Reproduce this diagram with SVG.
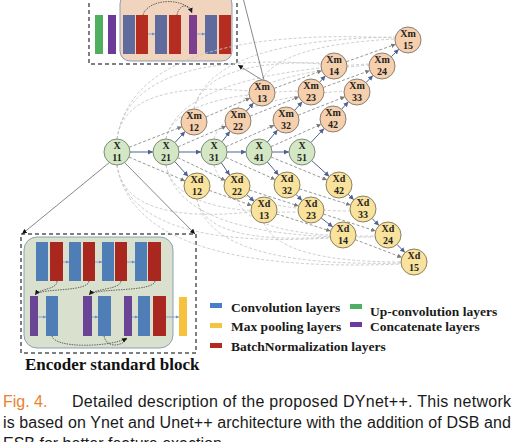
<svg xmlns="http://www.w3.org/2000/svg" width="530" height="442" viewBox="0 0 530 442">
<style>
.bg{fill:#ffffff}
.nx{fill:#d4e7c5;stroke:#7d8c78;stroke-width:1}
.nm{fill:#f6cfad;stroke:#8c7f72;stroke-width:1}
.nd{fill:#f8e29c;stroke:#8a8160;stroke-width:1}
.nt{font-family:"Liberation Serif","Times New Roman",serif;font-weight:bold;font-size:10px;fill:#222;text-anchor:middle}
.sol{stroke:#4f6290;stroke-width:1;fill:none;marker-end:url(#aS)}
.dsh{stroke:#8c8c8c;stroke-width:0.9;stroke-dasharray:3 2;fill:none;marker-end:url(#aD)}
.arc{stroke:#c6c6c6;stroke-width:0.9;stroke-dasharray:3 2;fill:none}
.call{stroke:#6a6a6a;stroke-width:0.8;fill:none}
.box{fill:none;stroke:#555;stroke-width:1.5;stroke-dasharray:4 3}
.ba{stroke:#6d8fc9;stroke-width:0.8;fill:none;marker-end:url(#aB)}
.cv{stroke:#444;stroke-width:0.8;stroke-dasharray:1.5 1;fill:none}
.lg{font-family:"Liberation Serif","Times New Roman",serif;font-weight:bold;font-size:13.5px;fill:#1a1a1a}
.cap{font-family:"Liberation Sans",Arial,sans-serif;font-size:16px;fill:#1a1a1a}
</style>
<defs>
<marker id="aS" viewBox="0 0 10 10" refX="10" refY="5" markerWidth="5" markerHeight="5" markerUnits="userSpaceOnUse" orient="auto"><path d="M0,0 L10,5 L0,10 z" fill="#4f6290"/></marker>
<marker id="aD" viewBox="0 0 10 10" refX="10" refY="5" markerWidth="4.5" markerHeight="4.5" markerUnits="userSpaceOnUse" orient="auto"><path d="M0,0 L10,5 L0,10 z" fill="#7a7a7a"/></marker>
<marker id="aK" viewBox="0 0 10 10" refX="10" refY="5" markerWidth="5" markerHeight="5" markerUnits="userSpaceOnUse" orient="auto"><path d="M0,0 L10,5 L0,10 z" fill="#111"/></marker>
<marker id="aB" viewBox="0 0 10 10" refX="10" refY="5" markerWidth="3.5" markerHeight="3.5" markerUnits="userSpaceOnUse" orient="auto"><path d="M0,0 L10,5 L0,10 z" fill="#6d8fc9"/></marker>
</defs>
<rect class="bg" x="0" y="0" width="530" height="442"/>

<!-- Decoder standard block (top) -->
<g id="top-block">
<rect class="box" x="89" y="-10" width="148" height="74"/>
<rect x="95" y="15" width="8" height="39" fill="#4faf5d"/>
<rect x="108" y="15" width="8" height="39" fill="#6c3a98"/>
<rect x="120" y="-6" width="112" height="67" rx="10" fill="#f0d4be" stroke="#8e9bb8" stroke-width="1"/>
<rect x="123" y="15" width="12" height="39" fill="#616a9c"/>
<rect x="136" y="15" width="12" height="39" fill="#b52c21"/>
<rect x="155" y="15" width="12" height="39" fill="#616a9c"/>
<rect x="169" y="15" width="12" height="39" fill="#b52c21"/>
<rect x="189" y="15" width="8" height="39" fill="#7c3f8e"/>
<rect x="205" y="15" width="12" height="39" fill="#616a9c"/>
<rect x="219" y="15" width="12" height="39" fill="#b52c21"/>
<line class="ba" x1="148" y1="34" x2="155" y2="34"/>
<line class="ba" x1="197" y1="34" x2="205" y2="34"/>
<path class="cv" d="M143,15 C148,-2 186,-3 192,13" marker-end="url(#aK)"/>
<path class="cv" d="M177,15 C179,4 189,3 192,12"/>
</g>

<!-- Encoder standard block -->
<g id="encoder-block">
<rect class="box" x="21" y="234" width="175" height="119"/>
<rect x="24" y="237" width="149" height="111" rx="13" fill="#d9e0cd" stroke="#8aa1b7" stroke-width="1"/>
<rect x="36" y="242" width="12" height="39" fill="#4f7db6"/>
<rect x="50" y="242" width="13" height="39" fill="#a9271f"/>
<rect x="69" y="242" width="12" height="39" fill="#4f7db6"/>
<rect x="83" y="242" width="12" height="39" fill="#a9271f"/>
<rect x="102" y="242" width="12" height="39" fill="#4f7db6"/>
<rect x="115" y="242" width="12" height="39" fill="#a9271f"/>
<rect x="135" y="242" width="12" height="39" fill="#4f7db6"/>
<rect x="148" y="242" width="13" height="39" fill="#a9271f"/>
<rect x="30" y="296" width="8" height="40" fill="#6a4596"/>
<rect x="46" y="296" width="12" height="40" fill="#4f7db6"/>
<rect x="83" y="296" width="9" height="40" fill="#6a4596"/>
<rect x="98" y="296" width="13" height="40" fill="#4f7db6"/>
<rect x="124" y="296" width="8" height="40" fill="#6a4596"/>
<rect x="138" y="296" width="12" height="40" fill="#4f7db6"/>
<rect x="153" y="296" width="13" height="40" fill="#a9271f"/>
<rect x="179" y="297" width="8" height="39" fill="#f6c13c"/>
<line class="ba" x1="63" y1="262" x2="69" y2="262"/>
<line class="ba" x1="95" y1="262" x2="102" y2="262"/>
<line class="ba" x1="127" y1="262" x2="135" y2="262"/>
<line class="ba" x1="38" y1="317" x2="46" y2="317"/>
<line class="ba" x1="92" y1="317" x2="98" y2="317"/>
<line class="ba" x1="132" y1="317" x2="138" y2="317"/>
<line class="ba" x1="166" y1="317" x2="179" y2="317"/>
<path class="cv" d="M57,281 C57,290 40,288 35,295" marker-end="url(#aK)"/>
<path class="cv" d="M89,281 C88,292 45,288 36,294"/>
<path class="cv" d="M121,281 C120,290 95,288 89,295" marker-end="url(#aK)"/>
<path class="cv" d="M155,281 C154,292 100,288 91,294"/>
<path class="cv" d="M52,336 C55,349 112,347 127,338" marker-end="url(#aK)"/>
<path class="cv" d="M104,336 C107,349 122,346 127,339"/>
<text x="25" y="370" font-family="Liberation Serif, Times New Roman, serif" font-weight="bold" font-size="17" fill="#111">Encoder standard block</text>
</g>

<!-- connectors -->
<g id="connectors">
<!-- long skip arcs, upper -->
<path class="arc" d="M117,139 Q125,80 249,91"/>
<path class="arc" d="M117,139 Q130,50 321,64"/>
<path class="arc" d="M117,139 Q135,25 395,38"/>
<path class="arc" d="M194,109 Q205,60 321,63"/>
<path class="arc" d="M194,109 Q210,40 395,37"/>
<path class="arc" d="M262,80 Q280,45 395,39"/>
<path class="arc" d="M166,139 Q175,95 298,91"/>
<path class="arc" d="M166,139 Q180,75 369,64"/>
<path class="arc" d="M238,108 Q250,75 369,65"/>
<path class="arc" d="M214,139 Q225,100 344,91"/>
<!-- long skip arcs, lower -->
<path class="arc" d="M117,165 Q125,225 251,212"/>
<path class="arc" d="M117,165 Q130,250 330,238"/>
<path class="arc" d="M117,165 Q135,275 401,264"/>
<path class="arc" d="M197,199 Q205,245 330,237"/>
<path class="arc" d="M197,199 Q210,268 401,263"/>
<path class="arc" d="M264,223 Q280,262 401,262"/>
<path class="arc" d="M166,165 Q175,215 298,212"/>
<path class="arc" d="M166,165 Q180,240 375,237"/>
<path class="arc" d="M237,199 Q250,238 375,236"/>
<path class="arc" d="M214,165 Q225,210 350,211"/>
<!-- callout lines -->
<line class="call" x1="262" y1="80" x2="238" y2="65" marker-end="url(#aK)"/>
<line class="call" x1="264" y1="80" x2="241" y2="-10"/>
<line class="call" x1="110" y1="162" x2="22" y2="234" marker-end="url(#aK)"/>
<line class="call" x1="125" y1="163" x2="195" y2="234" marker-end="url(#aK)"/>
<!-- horizontal encoder path -->
<line class="sol" x1="130" y1="152" x2="153" y2="152"/>
<line class="sol" x1="179" y1="152" x2="201" y2="152"/>
<line class="sol" x1="227" y1="152" x2="246" y2="152"/>
<line class="sol" x1="272" y1="152" x2="289" y2="152"/>
<!-- solid up -->
<line class="sol" x1="174.9" y1="142.5" x2="185.1" y2="131.5"/>
<line class="sol" x1="222" y1="141.7" x2="230" y2="131.3"/>
<line class="sol" x1="267.4" y1="142.1" x2="277.6" y2="129.9"/>
<line class="sol" x1="310.9" y1="142.5" x2="324.1" y2="128.5"/>
<line class="sol" x1="246.5" y1="111.1" x2="253.5" y2="102.9"/>
<line class="sol" x1="294.7" y1="110.3" x2="302.3" y2="101.7"/>
<line class="sol" x1="341.6" y1="109.3" x2="348.4" y2="101.7"/>
<line class="sol" x1="319.6" y1="82.3" x2="325.4" y2="75.7"/>
<line class="sol" x1="366" y1="82.6" x2="373" y2="75.4"/>
<line class="sol" x1="391.2" y1="56.8" x2="398.8" y2="49.2"/>
<!-- solid down -->
<line class="sol" x1="174.8" y1="161.6" x2="188.2" y2="176.4"/>
<line class="sol" x1="221.3" y1="162.8" x2="229.7" y2="175.2"/>
<line class="sol" x1="267.4" y1="161.9" x2="278.6" y2="175.1"/>
<line class="sol" x1="311.7" y1="160.6" x2="329.3" y2="176.4"/>
<line class="sol" x1="246.7" y1="194.6" x2="254.3" y2="201.4"/>
<line class="sol" x1="296" y1="194.4" x2="302" y2="200.6"/>
<line class="sol" x1="348.2" y1="194.2" x2="353.8" y2="199.8"/>
<line class="sol" x1="321.2" y1="218" x2="332.8" y2="227"/>
<line class="sol" x1="372" y1="218.4" x2="379" y2="225.6"/>
<line class="sol" x1="397" y1="244.4" x2="405" y2="252.6"/>
<!-- dashed skips up -->
<line class="dsh" x1="129.1" y1="147.3" x2="181.9" y2="126.7"/>
<line class="dsh" x1="206" y1="116.9" x2="250" y2="98.1"/>
<line class="dsh" x1="274.2" y1="88.4" x2="321.8" y2="70.6"/>
<line class="dsh" x1="346.3" y1="61.7" x2="395.7" y2="44.3"/>
<line class="dsh" x1="177.9" y1="146.9" x2="226.1" y2="126.1"/>
<line class="dsh" x1="250.1" y1="116.2" x2="298.9" y2="96.8"/>
<line class="dsh" x1="323.2" y1="87.5" x2="369.8" y2="70.5"/>
<line class="dsh" x1="225.9" y1="146.7" x2="274.1" y2="125.3"/>
<line class="dsh" x1="298.1" y1="115.2" x2="344.9" y2="96.8"/>
<line class="dsh" x1="270.9" y1="146.7" x2="321.1" y2="124.3"/>
<!-- dashed skips down -->
<line class="dsh" x1="129" y1="157.1" x2="185" y2="180.9"/>
<line class="dsh" x1="209.2" y1="190.4" x2="251.8" y2="205.6"/>
<line class="dsh" x1="276.4" y1="213.9" x2="330.6" y2="231.1"/>
<line class="dsh" x1="355.1" y1="239.6" x2="401.9" y2="257.4"/>
<line class="dsh" x1="177.7" y1="157.6" x2="225.3" y2="180.4"/>
<line class="dsh" x1="249.4" y1="190" x2="298.6" y2="206"/>
<line class="dsh" x1="323.4" y1="214" x2="375.6" y2="231"/>
<line class="dsh" x1="225.8" y1="157.4" x2="275.2" y2="179.6"/>
<line class="dsh" x1="299.4" y1="188.9" x2="350.6" y2="205.1"/>
<line class="dsh" x1="271" y1="157" x2="327" y2="180"/>
</g>

<!-- nodes -->
<g id="X11"><circle class="nx" cx="117" cy="152" r="13"/><text class="nt" x="117" y="148.5">X</text><text class="nt" x="117" y="160.5">11</text></g>
<g id="X21"><circle class="nx" cx="166" cy="152" r="13"/><text class="nt" x="166" y="148.5">X</text><text class="nt" x="166" y="160.5">21</text></g>
<g id="X31"><circle class="nx" cx="214" cy="152" r="13"/><text class="nt" x="214" y="148.5">X</text><text class="nt" x="214" y="160.5">31</text></g>
<g id="X41"><circle class="nx" cx="259" cy="152" r="13"/><text class="nt" x="259" y="148.5">X</text><text class="nt" x="259" y="160.5">41</text></g>
<g id="X51"><circle class="nx" cx="302" cy="152" r="13"/><text class="nt" x="302" y="148.5">X</text><text class="nt" x="302" y="160.5">51</text></g>

<g id="Xm12"><circle class="nm" cx="194" cy="122" r="13"/><text class="nt" x="194" y="118.5">Xm</text><text class="nt" x="194" y="130.5">12</text></g>
<g id="Xm22"><circle class="nm" cx="238" cy="121" r="13"/><text class="nt" x="238" y="117.5">Xm</text><text class="nt" x="238" y="129.5">22</text></g>
<g id="Xm32"><circle class="nm" cx="286" cy="120" r="13"/><text class="nt" x="286" y="116.5">Xm</text><text class="nt" x="286" y="128.5">32</text></g>
<g id="Xm42"><circle class="nm" cx="333" cy="119" r="13"/><text class="nt" x="333" y="115.5">Xm</text><text class="nt" x="333" y="127.5">42</text></g>
<g id="Xm13"><circle class="nm" cx="262" cy="93" r="13"/><text class="nt" x="262" y="89.5">Xm</text><text class="nt" x="262" y="101.5">13</text></g>
<g id="Xm23"><circle class="nm" cx="311" cy="92" r="13"/><text class="nt" x="311" y="88.5">Xm</text><text class="nt" x="311" y="100.5">23</text></g>
<g id="Xm33"><circle class="nm" cx="357" cy="92" r="13"/><text class="nt" x="357" y="88.5">Xm</text><text class="nt" x="357" y="100.5">33</text></g>
<g id="Xm14"><circle class="nm" cx="334" cy="66" r="13"/><text class="nt" x="334" y="62.5">Xm</text><text class="nt" x="334" y="74.5">14</text></g>
<g id="Xm24"><circle class="nm" cx="382" cy="66" r="13"/><text class="nt" x="382" y="62.5">Xm</text><text class="nt" x="382" y="74.5">24</text></g>
<g id="Xm15"><circle class="nm" cx="408" cy="40" r="13"/><text class="nt" x="408" y="36.5">Xm</text><text class="nt" x="408" y="48.5">15</text></g>

<g id="Xd12"><circle class="nd" cx="197" cy="186" r="13"/><text class="nt" x="197" y="182.5">Xd</text><text class="nt" x="197" y="194.5">12</text></g>
<g id="Xd22"><circle class="nd" cx="237" cy="186" r="13"/><text class="nt" x="237" y="182.5">Xd</text><text class="nt" x="237" y="194.5">22</text></g>
<g id="Xd32"><circle class="nd" cx="287" cy="185" r="13"/><text class="nt" x="287" y="181.5">Xd</text><text class="nt" x="287" y="193.5">32</text></g>
<g id="Xd42"><circle class="nd" cx="339" cy="185" r="13"/><text class="nt" x="339" y="181.5">Xd</text><text class="nt" x="339" y="193.5">42</text></g>
<g id="Xd13"><circle class="nd" cx="264" cy="210" r="13"/><text class="nt" x="264" y="206.5">Xd</text><text class="nt" x="264" y="218.5">13</text></g>
<g id="Xd23"><circle class="nd" cx="311" cy="210" r="13"/><text class="nt" x="311" y="206.5">Xd</text><text class="nt" x="311" y="218.5">23</text></g>
<g id="Xd33"><circle class="nd" cx="363" cy="209" r="13"/><text class="nt" x="363" y="205.5">Xd</text><text class="nt" x="363" y="217.5">33</text></g>
<g id="Xd14"><circle class="nd" cx="343" cy="235" r="13"/><text class="nt" x="343" y="231.5">Xd</text><text class="nt" x="343" y="243.5">14</text></g>
<g id="Xd24"><circle class="nd" cx="388" cy="235" r="13"/><text class="nt" x="388" y="231.5">Xd</text><text class="nt" x="388" y="243.5">24</text></g>
<g id="Xd15"><circle class="nd" cx="414" cy="262" r="13"/><text class="nt" x="414" y="258.5">Xd</text><text class="nt" x="414" y="270.5">15</text></g>

<!-- legend -->
<g id="legend">
<rect x="210" y="303" width="12" height="5" fill="#4b7dcb"/>
<text class="lg" x="231" y="312">Convolution layers</text>
<rect x="210" y="323" width="12" height="5" fill="#f5c343"/>
<text class="lg" x="231" y="331">Max pooling layers</text>
<rect x="210" y="343" width="12" height="5" fill="#b3281f"/>
<text class="lg" x="231" y="351">BatchNormalization layers</text>
<rect x="350" y="304" width="12" height="5" fill="#4daf62"/>
<text class="lg" x="370" y="316">Up-convolution layers</text>
<rect x="350" y="322" width="12" height="5" fill="#6a3aa0"/>
<text class="lg" x="370" y="331">Concatenate layers</text>
</g>

<!-- caption -->
<g id="caption">
<text class="cap" x="3" y="407" fill="#e8822e" style="fill:#e8822e">Fig. 4.</text>
<text class="cap" x="72" y="407" textLength="439" lengthAdjust="spacing">Detailed description of the proposed DYnet++. This network</text>
<text class="cap" x="3" y="428" textLength="508" lengthAdjust="spacing">is based on Ynet and Unet++ architecture with the addition of DSB and</text>
<text class="cap" x="3" y="449">ESB for better feature exaction</text>
</g>
</svg>
